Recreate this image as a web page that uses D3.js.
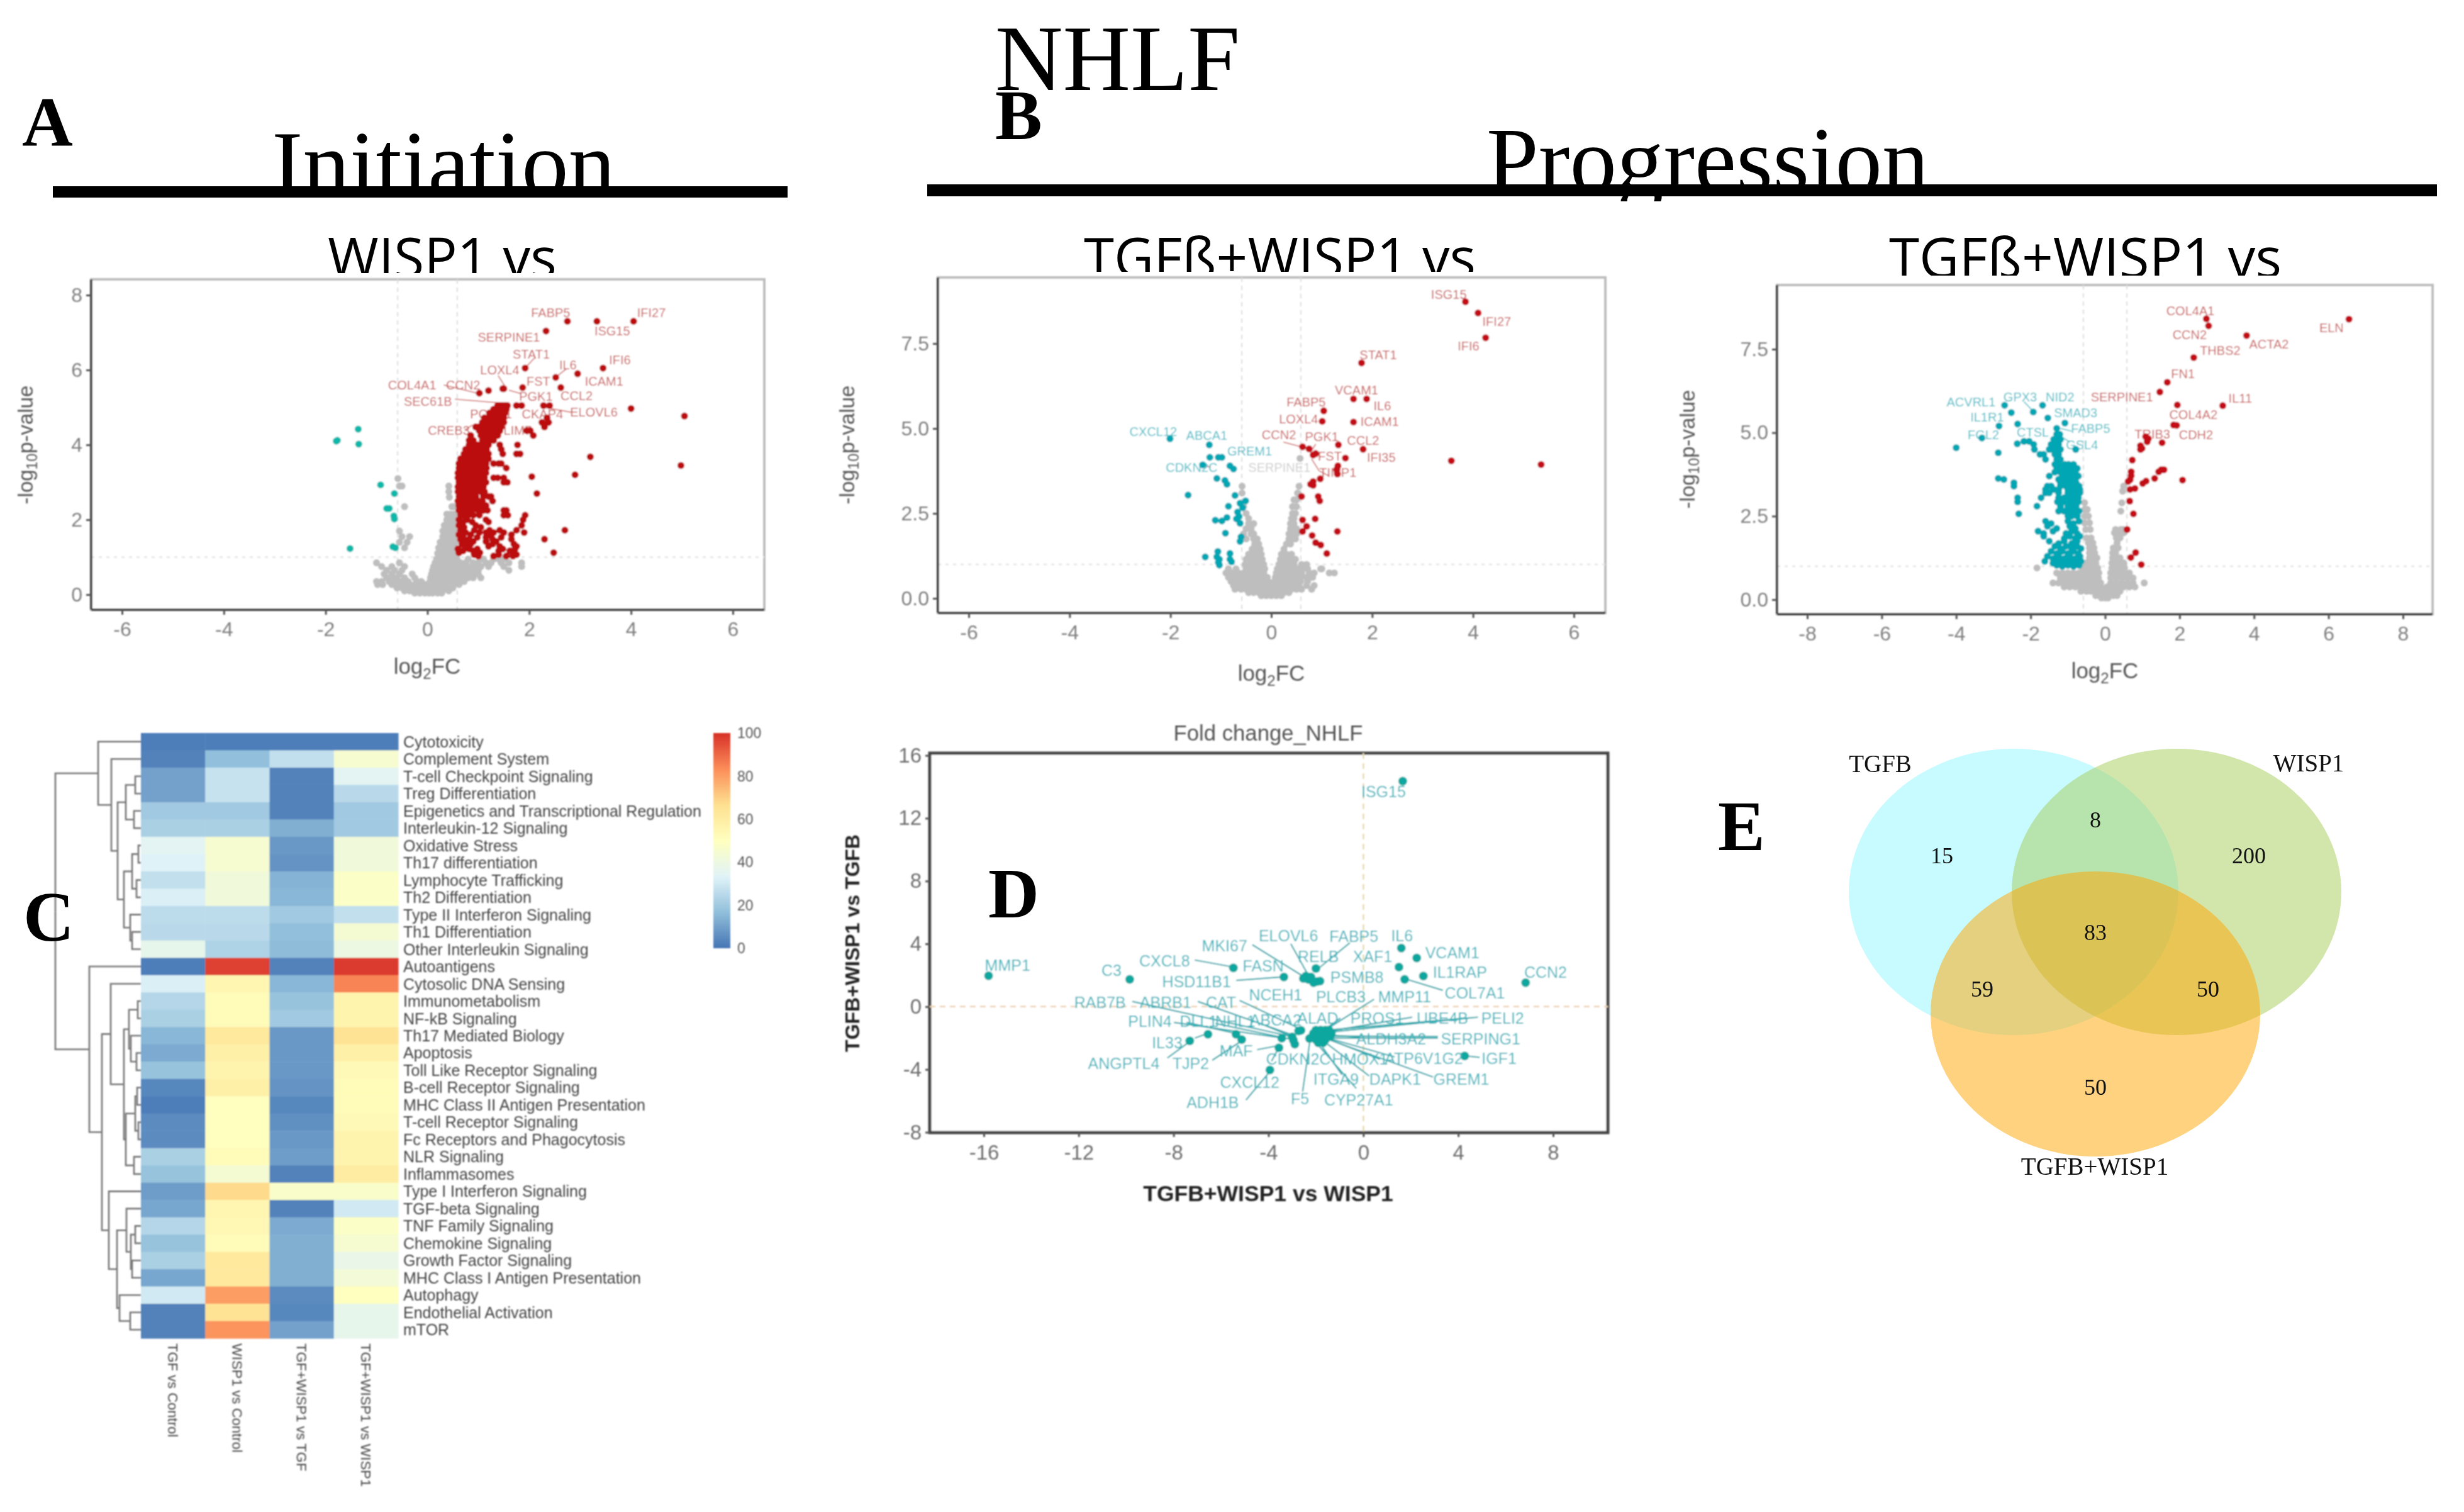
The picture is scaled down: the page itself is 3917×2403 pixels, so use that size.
<!DOCTYPE html>
<html>
<head>
<meta charset="utf-8">
<title>NHLF</title>
<script src="https://cdn.jsdelivr.net/npm/d3@7/dist/d3.min.js"></script>
<style>
	html,body{margin:0;padding:0;background:#fff;}
	text{font-family:"Liberation Sans",Arial,sans-serif;}
	.serif text,text.serif{font-family:"Liberation Serif","Times New Roman",serif;}
	.sub{font-family:"Open Sans","Noto Sans",sans-serif;}
</style>
</head>
<body>
<div id="chart"></div>
<script>
// volcano values are written as rows: first number is -log10p, the rest are log2FC
var redA = [
	[7.3,2.75,3.33,4.05],[7.04,2.33],[6.05,1.92,3.45],[5.9,2.95],[5.8,2.52],[5.53,1.87,2.62],[5.5,1.5,1.48],[5.45,1.2],[5.38,1.02],
	[5.05,1.38,1.42,1.47,1.52,1.57,1.75,1.85,2.28,2.4],[4.97,4.0],[4.95,1.3,1.36,1.44,1.5,1.55],[4.85,1.22,1.3,1.38,1.46,1.52],
	[4.77,5.05],[4.72,1.12,1.2,1.28,1.35,1.43,1.5,2.35],[4.6,1.08,1.16,1.22,1.3,1.38,1.5,2.25,2.38],[4.48,.95,1.02,1.1,1.18,1.25,1.33,1.45,2.3],
	[4.38,1.02,1.1,1.17,1.24,1.32,1.42,1.95,2.02],[4.25,.85,1.05,1.12,1.2,1.28,1.38,2.08],[4.12,.82,.9,1.08,1.15,1.22,1.3],
	[4.0,.82,.9,.98,1.05,1.12,1.2,1.42,1.77],[3.88,.75,.85,.93,1.0,1.08,1.16,1.45],[3.76,.72,.8,.88,.96,1.03,1.1,1.2,1.48,1.75,1.82],
	[3.68,3.2],[3.63,.65,.72,.8,.88,.95,1.02,1.1,1.2],[3.5,.62,.7,.78,.85,.93,1.0,1.08,1.15,1.3,1.4,1.45],[3.45,4.98],
	[3.38,.62,.68,.76,.84,.92,1.0,1.08,1.16,1.55],[3.25,.6,.68,.75,.82,.9,.98,1.05,1.15],[3.2,2.9],[3.15,2.05],
	[3.12,.6,.66,.74,.82,.9,1.0,1.12,1.3,1.38,1.5],[3.0,.62,.7,.78,.86,.95,1.05,1.15,1.5,1.57],[2.88,.6,.68,.76,.84,.92,1.0,1.1],
	[2.75,.6,.65,.72,.8,.88,.96,1.05,1.12],[2.7,2.15],[2.62,.62,.7,.78,.86,.95,1.1,1.2,1.25],[2.5,.6,.68,.76,.84,.92,1.0,1.08,1.28],
	[2.38,.62,.7,.78,.86,.95,1.05,1.15],[2.25,.62,.7,.78,.88,1.0,1.1,1.18,1.5,1.55],[2.12,.65,.72,.8,.9,1.02,1.5,1.58,1.92],
	[2.0,.62,.78,1.15,1.88],[1.94,.7,.88,1.2],[1.85,.62,.95,1.85],[1.8,.72,1.05],[1.72,.65,.92,1.22,1.42,1.75,2.7],[1.66,.75,1.02,1.15,1.3,1.5,1.9],
	[1.6,.62,.85,1.25,1.65],[1.53,.7,.98,1.15,1.45],[1.48,.65,.82,1.28,1.65,2.3],[1.42,.72,.9,1.15,1.35],[1.35,.68,.85,1.28,1.7],[1.29,.78,1.2,1.42,1.75],
	[1.22,.6,.82,.98,1.48,1.72],[1.17,.7,.9,1.4,1.62],[1.12,.62,1.03,1.68,2.48],[1.07,.92,1.4,1.75],[1.03,1.0,1.3,1.55,1.68]
];
var tealA = [
	[4.42,-1.36],[4.12,-1.77],[4.1,-1.79],[4.02,-1.35],[2.93,-.92],[2.7,-.65],[2.3,-.8,-.75],[2.1,-.66],[2.02,-.65],[1.28,-.68],[1.25,-.63],[1.23,-1.52]
];
var greyA = [
	[3.1,-.58],[2.9,-.55,-.5,.42],[2.75,.42],[2.6,.43],[2.35,-.45,.48,.52],[2.15,.38,.45,.52],[2.0,.38,.45,.5,.55],[1.85,.33,.4,.47,.53],
	[1.7,-.55,.3,.38,.45,.52],[1.55,-.5,-.35,.3,.37,.44,.52],[1.4,-.55,-.4,.25,.32,.4,.48,.55],[1.25,-.45,.22,.3,.38,.46,.54],[1.1,.2,.28,.36,.44,.52],
	[.95,.18,.26,.34,.42,.5,.58,.8,1.1,1.3,1.4,1.5],[.85,-1.0,-.55,.15,.22,.3,.38,.46,.55,.65,.75,.9,1.0,1.15,1.25,1.45,1.6,1.85],
	[.75,-.9,-.7,-.45,.12,.2,.28,.36,.45,.55,.65,.75,.85,.95,1.05,1.2,1.5,1.85],[.65,-.8,-.65,-.5,.1,.18,.26,.34,.43,.52,.62,.72,.82,.92,1.0,1.6],
	[.55,-.85,-.7,-.55,-.3,.08,.16,.24,.32,.4,.5,.6,.7,.8,.9,1.0],[.45,-.8,-.72,-.6,-.45,-.25,.06,.14,.22,.3,.38,.48,.58,.68,.8,.9,1.05],
	[.35,-1.0,-.9,-.75,-.62,-.5,-.38,-.2,-.12,.05,.12,.2,.28,.38,.48,.6,.72],[.27,-.98,-.88,-.7,-.6,-.48,-.35,-.25,-.15,-.05,.05,.14,.24,.36,.5,.62],
	[.18,-.6,-.5,-.42,-.32,-.22,-.12,-.04,.06,.16,.28,.4,.5],[.1,-.45,-.35,-.25,-.15,-.08,0,.08,.18,.3,.42],[.04,-.25,-.15,-.05,.03,.1,.2,.28]
];
var labelsA = [
	["FABP5",2.42,7.53],["ISG15",3.63,7.05],["IFI27",4.4,7.53],["SERPINE1",1.6,6.87],["STAT1",2.04,6.43],["IL6",2.76,6.13],["IFI6",3.78,6.27],
	["LOXL4",1.42,6.0],["FST",2.18,5.7],["ICAM1",3.47,5.7],["COL4A1",-.3,5.6],["CCN2",.7,5.6],["PGK1",2.13,5.29],["CCL2",2.93,5.31],
	["SEC61B",.01,5.17],["PCCB1",1.25,4.83],["CKAP4",2.26,4.83],["ELOVL6",3.27,4.87],["CREB3",.42,4.39],["PDLIM7",1.6,4.39]
];
var leadersA = [
	[.32,5.6,1.01,5.37],[.54,5.22,1.44,5.12],[1.39,5.85,1.53,5.55],[2.11,6.33,1.93,6.07],[2.73,6.03,2.53,5.82],[1.83,5.37,1.6,5.46],[2.83,4.87,2.26,5.01],[.73,4.39,.88,4.53]
];

var redB = [
	[8.73,3.85],[8.4,4.1],[7.67,4.25],[6.93,1.79],[5.87,1.63,1.89],[5.52,1.04],[5.21,1.01],[5.19,1.63],[4.52,1.33],[4.46,.62],[4.4,.75],[4.39,1.82],
	[4.26,.88],[4.22,.83],[4.13,1.47],[4.05,3.57],[3.94,5.35],[3.9,1.32],[3.8,1.3],[3.66,1.31],[3.52,.97],[3.44,.83],[3.36,.78],[3.33,.83],[3.0,.6,.93],
	[2.87,.96],[2.34,.87],[2.31,.62],[2.12,.7],[1.97,.62,1.31],[1.85,.81],[1.64,.88],[1.57,.98],[1.32,1.1]
];
var tealB = [
	[4.7,-2.01],[4.52,-1.23],[4.15,-1.22,-1.05,-.98],[3.93,-1.36],[3.9,-.82],[3.81,-.75],[3.53,-1.08],[3.47,-.92],[3.36,-.88],[3.04,-1.65],[3.03,-.72],
	[2.87,-.51],[2.8,-.62],[2.71,-.85],[2.67,-.57],[2.54,-.67],[2.41,-.64],[2.38,-.88],[2.34,-.69],[2.3,-1.11],[2.28,-.98],[2.21,-.62],[1.92,-.91],
	[1.81,-.6],[1.68,-.62],[1.38,-1.06],[1.32,-.82],[1.22,-1.31,-1.08],[1.15,-1.03,-.82],[1.08,-.79],[1.06,-1.05],[.98,-1.03]
];
var greyB = [
	[4.12,.57],[3.3,-.58,.55],[3.1,-.58,.52],[2.9,.45,.5],[2.7,-.55,.42,.5],[2.5,-.5,.42,.48],[2.35,-.45,.4,.45],[2.2,-.45,-.35,.38,.45],
	[2.05,-.5,-.4,.38,.45,.5],[1.9,-.55,-.4,-.35,.35,.42,.5],[1.75,-.5,-.35,-.28,.35,.42,.48],[1.6,-.33,-.25,.3,.38],[1.45,-.38,-.3,-.22,.25],
	[1.3,-.45,-.35,-.28,-.2,.2,.3,.4],[1.15,-.5,-.42,-.33,-.25,-.18,.18,.28,.38,.48],[1.0,-.52,-.4,-.3,-.22,-.15,.15,.25,.35,.45,.6,.7],
	[.87,-.85,-.7,-.5,-.4,-.3,-.22,-.13,.12,.22,.32,.42,.52,.62,.72,.98,1.0],[.75,-.9,-.78,-.65,-.55,-.45,-.35,-.25,-.15,.1,.2,.3,.4,.5,.6,.75,.85,1.15,1.25],
	[.62,-.85,-.72,-.6,-.48,-.36,-.26,-.16,-.08,.08,.18,.28,.38,.48,.58,.7,.82],[.5,-.8,-.68,-.56,-.44,-.34,-.24,-.14,-.06,.06,.16,.26,.36,.46,.58,.72],
	[.38,-.75,-.65,-.55,-.45,-.35,-.25,-.15,-.05,.05,.15,.25,.35,.45,.55,.7,.85],[.27,-.72,-.6,-.5,-.4,-.3,-.2,-.1,0,.1,.2,.3,.4,.5,.6,.8],
	[.17,-.45,-.35,-.25,-.15,-.05,.05,.15,.25,.35],[.08,-.2,-.1,0,.1,.2]
];
var labelsBRed = [
	["ISG15",3.52,8.95],["IFI27",4.47,8.16],["IFI6",3.91,7.43],["STAT1",2.12,7.17],["VCAM1",1.69,6.14],["IL6",2.2,5.67],["FABP5",.69,5.78],
	["LOXL4",.54,5.29],["ICAM1",2.15,5.2],["CCN2",.15,4.81],["PGK1",1.0,4.76],["CCL2",1.82,4.66],["IFI35",2.18,4.15],["FST",1.16,4.19],["TIMP1",1.32,3.7]
];
var labelsBTeal = [["CXCL12",-2.34,4.92],["ABCA1",-1.28,4.8],["GREM1",-.43,4.33],["CDKN2C",-1.58,3.86]];
var labelsBGrey = [["SERPINE1",.16,3.86]];
var leadersB = [[.24,4.6,.62,4.45],[.88,4.54,.78,4.3],[.8,4.1,.95,3.75],[.95,3.75,1.15,3.6],[-1.2,3.86,-1.36,3.93]];

var redC = [
	[8.41,2.72],[8.4,6.55],[8.2,2.78],[7.91,3.8],[7.25,2.38],[6.51,1.67],[6.22,1.47],[5.83,1.94],[5.81,3.16],[5.23,1.84],[5.22,1.92],[4.88,1.09],[4.82,1.16],
	[4.73,1.13],[4.7,1.53],[4.61,.95],[4.53,.99],[4.5,.95],[4.18,.73],[3.89,1.51,1.58],[3.83,1.44,.7],[3.71,.7],[3.63,1.33],[3.59,.67],[3.58,2.08],[3.55,1.1],
	[3.54,.62],[3.48,1.01],[3.33,.8],[3.3,.67],[2.95,.66],[2.57,.76],[2.1,.59],[1.41,.82],[1.26,.69],[1.05,.97]
];
var tealC = [
	[5.82,-2.7,-1.68],[5.62,-1.93],[5.6,-2.52],[5.44,-1.54],[5.29,-1.08],[5.26,-2.35],[5.2,-2.85],[5.13,-1.3],[4.95,-1.3,-1.22],[4.84,-3.31],[4.8,-1.38,-1.28,-1.2],
	[4.74,-2.18,-2.04],[4.67,-2.36],[4.65,-1.45,-1.35,-1.25,-1.92],[4.55,-4.0],[4.5,-.79,-1.9,-1.5,-1.42,-1.3,-1.2],[4.4,-2.87],[4.35,-1.75,-1.65,-1.35,-1.25],
	[4.2,-1.6,-1.3,-1.2],[4.05,-1.35,-1.25,-1.08,-.98,-.85],[3.93,-1.3,-1.15,-1.05,-.95,-.85,-.75],[3.82,-1.35,-1.2,-1.1,-1.0,-.9,-.8],[3.7,-1.5,-1.15,-1.05,-.95,-.85,-.72],
	[3.63,-2.87],[3.6,-2.72,-1.25,-1.1,-1.0,-.9,-.8],[3.5,-2.45,-1.2,-1.08,-.98,-.88,-.78],[3.4,-2.45,-1.55,-1.45,-1.2,-1.05,-.95,-.85,-.7],[3.3,-1.6,-1.38,-1.25,-1.0,-.9,-.8,-.68],
	[3.2,-1.6,-1.5,-1.25,-1.0,-.9,-.8,-.68],[3.05,-2.35,-1.72,-1.25,-1.1,-.95,-.85,-.72],[2.93,-2.35,-1.28,-1.13,-.95,-.85,-.72],[2.8,-1.83,-1.2,-1.0,-.9,-.78],
	[2.65,-1.25,-1.1,-.95,-.8,-.7],[2.57,-2.32],[2.5,-1.0,-.9,-.75],[2.35,-1.6,-1.0,-.7],[2.28,-1.45,-.85],[2.2,-1.55,-.95],[2.13,-1.3,-.8],[2.05,-1.8,-1.4,-.9],
	[1.98,-1.65,-1.05,-.75],[1.9,-1.65,-.95,-.68],[1.83,-1.1,-.8],[1.75,-1.5,-1.1,-.75],[1.68,-1.25,-.9],[1.6,-1.35,-1.05,-.75],[1.53,-1.2,-.9,-.65],[1.45,-1.45,-1.15,-.85],
	[1.38,-1.3,-1.0,-.72],[1.3,-1.55,-1.25,-.95,-.68],[1.23,-1.4,-1.1,-.8],[1.15,-1.62,-1.25,-.95,-.65],[1.09,-1.4,-1.1,-.8],[1.03,-1.3,-1.0,-.7],[1.0,-1.15,-.85]
];
var greyC = [
	[3.4,.5],[3.25,.47],[2.9,.45,-.55],[2.7,-.55,-.48],[2.65,.42],[2.5,-.55,-.45],[2.3,-.55,-.42],[2.1,-.52,-.4,.28,.42,.48],[2.0,.25,.32,.4,.5],[1.85,-.5,-.38,.3,.4],
	[1.7,-.45,-.33,.32],[1.55,-.42,-.3,.22,.35],[1.4,-.42,-.28,.2,.28],[1.25,-.42,-.3,-.22,.2,.3,.4],[1.1,-.5,-.35,-.25,.18,.28,.4,.5],[.95,-1.83,-.6,-.45,-.32,-.2,.18,.3,.42,.52],
	[.8,-1.3,-1.15,-1.0,-.85,-.7,-.55,-.4,-.28,-.17,.15,.28,.4,.52,.65],[.65,-1.2,-1.05,-.9,-.75,-.6,-.45,-.3,-.18,.15,.3,.45,.6,.75],
	[.5,-1.4,-1.25,-1.1,-.95,-.8,-.65,-.5,-.38,-.25,-.12,.15,.3,.45,.6,.75,1.05],[.38,-1.1,-.95,-.8,-.65,-.5,-.38,-.25,-.12,.05,.2,.35,.5,.65,.8],
	[.25,-.65,-.5,-.38,-.25,-.12,0,.12,.25,.4],[.12,-.25,-.12,0,.1,.22,.32],[.05,-.1,0,.08]
];
var labelsCRed = [
	["COL4A1",2.29,8.65],["CCN2",2.27,7.93],["ELN",6.08,8.14],["ACTA2",4.4,7.65],["THBS2",3.09,7.47],["FN1",2.09,6.77],["SERPINE1",.45,6.08],["IL11",3.63,6.04],
	["COL4A2",2.37,5.55],["TRIB3",1.27,4.96],["CDH2",2.44,4.94]
];
var labelsCTeal = [
	["ACVRL1",-3.6,5.93],["GPX3",-2.28,6.08],["NID2",-1.21,6.08],["SMAD3",-.79,5.6],["IL1R1",-3.17,5.46],["FABP5",-.39,5.13],["FGL2",-3.27,4.94],["CTSL",-1.94,5.02],["GSL4",-.62,4.64]
];
var leadersC = [[-2.18,5.93,-1.93,5.64],[-.9,5.05,-1.2,5.13],[-.95,4.72,-1.2,4.9]];

var foldX = [
	-15.8,-9.85,-5.48,-3.35,1.66,1.6,2.25,1.5,2.53,1.74,6.84,-2,-2.42,-2.32,-2.53,-2.21,-2.1,-1.83,-1.96,4.27,-7.32,-6.55,-5.37,-5.13,-3.56,-3.94,-3.44,-2.95,-2.89,-3,-2.73,-2.63,-2.27,
	-2.0,-1.8,-1.6,-1.45,-2.1,-1.9,-1.7,-1.5,-1.35,-2.15,-1.95,-1.75,-1.55,-1.4,-2.0,-1.8,-1.6,-1.9,-1.7
];
var foldY = [
	1.97,1.74,2.47,1.89,14.36,3.73,3.1,2.52,1.95,1.74,1.53,2.43,1.95,1.74,1.8,1.89,1.53,1.63,1.6,-3.14,-2.18,-1.76,-1.76,-2.1,-2.62,-4.03,-2.01,-2.14,-2.39,-1.93,-1.55,-1.51,-2.03,
	-1.5,-1.5,-1.5,-1.5,-1.7,-1.7,-1.7,-1.7,-1.7,-1.9,-1.9,-1.9,-1.9,-1.9,-2.1,-2.1,-2.1,-2.3,-2.3
];
var labelsD = [
	["MMP1",-15,2.64],["C3",-10.62,2.3],["CXCL8",-8.38,2.93],["MKI67",-5.85,3.9],["FASN",-4.22,2.6],["HSD11B1",-7.03,1.6],["ELOVL6",-3.16,4.53],["FABP5",-.4,4.5],["IL6",1.63,4.53],
	["RELB",-1.9,3.2],["XAF1",.39,3.2],["VCAM1",3.75,3.46],["IL1RAP",4.07,2.2],["CCN2",7.68,2.2],["PSMB8",-.27,1.89],["COL7A1",4.7,.86],["NCEH1",-3.7,.75],["PLCB3",-.95,.65],
	["MMP11",1.74,.65],["RAB7B",-11.1,.29],["ABRB1",-8.34,.29],["CAT",-6.0,.29],["PLIN4",-9.0,-.94],["DLL1",-6.95,-.94],["NHL1",-5.4,-.94],["ABCA2",-3.7,-.85],["ALAD",-1.92,-.71],
	["PROS1",.58,-.71],["UBE4B",3.33,-.71],["PELI2",5.87,-.71],["ALDH3A2",1.17,-2.03],["SERPING1",4.94,-2.03],["IL33",-8.27,-2.29],["MAF",-5.36,-2.83],["ANGPTL4",-10.1,-3.6],
	["TJP2",-7.28,-3.6],["CDKN2C",-2.74,-3.33],["HMOX1",-.14,-3.33],["ATP6V1G2",2.55,-3.29],["IGF1",5.72,-3.29],["CXCL12",-4.79,-4.8],["ITGA9",-1.15,-4.61],["DAPK1",1.34,-4.61],
	["GREM1",4.13,-4.61],["ADH1B",-6.35,-6.08],["F5",-2.67,-5.87],["CYP27A1",-.2,-5.95],["ISG15",.85,13.69]
];
var leadersD = [
	[-4.68,3.94,-2.39,1.8],[-3.06,4.0,-2.32,2.0],[-.57,4.07,-1.92,2.4],[-7.11,2.97,-5.43,2.51],[-5.36,1.67,-3.33,1.9],[1.79,1.76,3.35,1.04],[-9.74,.33,-3.13,-1.87],[-6.98,.33,-2.86,-1.87],
	[-5.22,.4,-2.59,-1.47],[-7.99,-1,-3.4,-2.0],[-6.23,-1.07,-2.86,-2.14],[-4.35,-1.07,-2.86,-2.0],[-7.45,-1,-5.29,-1.74],[-.97,-.73,-1.65,-1.47],[.45,.47,-1.51,-1.4],[2.06,-.67,-1.38,-1.54],
	[4.43,-.73,-1.31,-1.6],[4.83,-.67,-1.38,-1.47],[-.16,-1.94,-1.51,-1.8],[3.14,-1.9,-1.38,-1.87],[3.14,-2.0,-1.38,-2.0],[1.32,-3.2,-1.51,-2.0],[.7,-3.35,-1.6,-2.0],[2.94,-4.48,-1.51,-2.07],
	[.24,-4.41,-1.78,-2.07],[-.9,-4.34,-1.92,-2.14],[-.3,-5.21,-2.05,-2.2],[-2.56,-5.41,-2.25,-2.14],[4.9,-3.23,4.29,-3.14],[-8.26,-3.27,-7.25,-2.14],[-6.37,-3.41,-5.09,-2.14],[-4.48,-2.74,-3.54,-2.47],
	[-4.95,-5.95,-3.87,-4.01],[-3.87,-3.47,-3.54,-2.54],[-7.1,-2,-6.5,-1.67]
];

var heatRows = [
	"Cytotoxicity","Complement System","T-cell Checkpoint Signaling","Treg Differentiation","Epigenetics and Transcriptional Regulation","Interleukin-12 Signaling",
	"Oxidative Stress","Th17 differentiation","Lymphocyte Trafficking","Th2 Differentiation","Type II Interferon Signaling","Th1 Differentiation","Other Interleukin Signaling",
	"Autoantigens","Cytosolic DNA Sensing","Immunometabolism","NF-kB Signaling","Th17 Mediated Biology","Apoptosis","Toll Like Receptor Signaling","B-cell Receptor Signaling",
	"MHC Class II Antigen Presentation","T-cell Receptor Signaling","Fc Receptors and Phagocytosis","NLR Signaling","Inflammasomes","Type I Interferon Signaling","TGF-beta Signaling",
	"TNF Family Signaling","Chemokine Signaling","Growth Factor Signaling","MHC Class I Antigen Presentation","Autophagy","Endothelial Activation","mTOR"
];
var heatCols = ["TGF vs Control","WISP1 vs Control","TGF+WISP1 vs TGF","TGF+WISP1 vs WISP1"];
var tgfVsControl = [2,3,10,10,20,22,35,33,27,32,26,25,37,2,32,24,22,15,12,18,4,2,5,5,22,18,9,11,24,18,22,11,30,3,3];
var wispVsControl = [2,17,28,28,20,22,45,45,42,42,26,25,23,97,55,52,52,62,58,56,58,50,50,50,52,44,68,55,54,52,62,62,80,65,82];
var comboVsTgf = [2,27,3,3,3,13,8,7,14,15,20,17,16,3,15,18,20,8,8,8,7,4,6,8,9,3,47,3,12,13,13,13,5,4,10];
var comboVsWisp = [2,45,35,25,20,20,42,42,48,48,27,44,40,98,85,56,56,65,58,53,52,52,53,56,56,60,47,30,48,45,38,43,50,37,37];
var heatSeries = [tgfVsControl,wispVsControl,comboVsTgf,comboVsWisp];
var heatStopValues = [0,16.7,33.3,50,66.7,83.3,100];
var heatStopColors = ["#4575b4","#91bfdb","#e0f3f8","#ffffbf","#fee090","#fc8d59","#d73027"];
var legendTicks = [0,20,40,60,80,100];
// row tree: [height, left, right], a plain number is a row index
var rowTree = [136,
	[68,0,[47,1,[37,
		[24,[9,2,3],[11,4,5]],
		[27,[14,[4,6,7],[7,8,9]],[17,10,[14,11,12]]]
	]]],
	[82,13,[62,
		[48,14,[27,
			[19,[5,15,16],[16,17,[7,18,19]]],
			[24,[9,[6,20,21],[4,22,23]],[11,24,25]]
		]],
		[51,26,[38,
			[23,27,[16,[9,28,29],[14,30,31]]],
			[34,32,[17,33,34]]
		]]
	]]
];

var vennSets = [
	{name:"TGFB",color:"rgb(72,242,255)",opacity:0.3,cx:3201,cy:1417.5,ry:227.5},
	{name:"WISP1",color:"rgb(165,205,89)",opacity:0.5,cx:3460,cy:1417.5,ry:227.5},
	{name:"TGFB+WISP1",color:"rgb(255,165,0)",opacity:0.5,cx:3331,cy:1611.5,ry:226.5}
];
var vennCounts = [15,8,200,83,59,50,50];

function rowsToPoints(rows){
	return rows.reduce(function(all,r){
		return all.concat(r.slice(1).map(function(v){return {x:v,y:r[0]};}));
	},[]);
}

var svg = d3.select("#chart").append("svg").attr("width",3917).attr("height",2403).style("display","block");
svg.append("rect").attr("width",3917).attr("height",2403).attr("fill","#fff");
var defs = svg.append("defs");
// the plots in the figure are soft pasted bitmaps
defs.append("filter").attr("id","soft").attr("filterUnits","userSpaceOnUse").attr("x",0).attr("y",0).attr("width",3917).attr("height",2403)
	.append("feGaussianBlur").attr("stdDeviation",0.8);

function drawLabels(g,list,x,y,size,color){
	g.selectAll(null).data(list).enter().append("text")
		.attr("x",function(d){return x(d[1]);})
		.attr("y",function(d){return y(d[2]);})
		.attr("dy",".36em")
		.attr("text-anchor","middle")
		.attr("font-size",size)
		.attr("fill",color)
		.text(function(d){return d[0];});
}
function drawLeaders(g,list,x,y,color,w){
	g.selectAll(null).data(list).enter().append("line")
		.attr("x1",function(d){return x(d[0]);}).attr("y1",function(d){return y(d[1]);})
		.attr("x2",function(d){return x(d[2]);}).attr("y2",function(d){return y(d[3]);})
		.attr("stroke",color).attr("stroke-width",w);
}
function drawDots(g,pts,x,y,r,color){
	g.selectAll(null).data(pts).enter().append("circle")
		.attr("cx",function(d){return x(d.x);})
		.attr("cy",function(d){return y(d.y);})
		.attr("r",r)
		.attr("fill",color);
}
function styleAxis(a,size,color){
	a.selectAll("text").attr("font-size",size).attr("fill",color).attr("font-family","Liberation Sans");
	a.selectAll("line").attr("stroke","#555").attr("stroke-width",3);
	a.select(".domain").attr("stroke","#444").attr("stroke-width",4);
}

function drawVolcano(p){
	var x = d3.scaleLinear().domain(p.xDomain).range(p.xRange);
	var y = d3.scaleLinear().domain(p.yDomain).range(p.yRange);
	var g = svg.append("g").attr("filter","url(#soft)");
	g.append("rect").attr("x",p.box[0]).attr("y",p.box[1]).attr("width",p.box[2]-p.box[0]).attr("height",p.box[3]-p.box[1])
		.attr("fill","#fff").attr("stroke","#bdbdbd").attr("stroke-width",4);
	[-0.585,0.585].forEach(function(v){
		g.append("line").attr("x1",x(v)).attr("x2",x(v)).attr("y1",p.box[1]).attr("y2",p.box[3])
			.attr("stroke","#ddd").attr("stroke-width",2).attr("stroke-dasharray","7,6");
	});
	g.append("line").attr("x1",p.box[0]).attr("x2",p.box[2]).attr("y1",y(1)).attr("y2",y(1))
		.attr("stroke","#e4e4e4").attr("stroke-width",2.5).attr("stroke-dasharray","5,7");
	drawLeaders(g,p.leaders,x,y,p.leaderColor,1.8);
	p.labels.forEach(function(l){drawLabels(g,l[0],x,y,20,l[1]);});
	drawDots(g,rowsToPoints(p.grey),x,y,5.6,"#bebebe");
	drawDots(g,rowsToPoints(p.teal),x,y,5.6,p.tealColor);
	drawDots(g,rowsToPoints(p.red),x,y,5.6,p.redColor);
	var ax = g.append("g").attr("transform","translate(0,"+p.box[3]+")")
		.call(d3.axisBottom(x).tickValues(p.xTicks).tickSize(8).tickPadding(11).tickFormat(function(d){return String(d);}));
	var ay = g.append("g").attr("transform","translate("+p.box[0]+",0)")
		.call(d3.axisLeft(y).tickValues(p.yTicks).tickSize(8).tickPadding(6).tickFormat(p.yFormat));
	[ax,ay].forEach(function(a){styleAxis(a,32,"#808080");});
	// domain has to cover the whole side of the frame
	ax.select(".domain").attr("d","M"+p.box[0]+",0H"+p.box[2]);
	ay.select(".domain").attr("d","M0,"+p.box[1]+"V"+p.box[3]);
	var xt = g.append("text").attr("x",p.xTitle[0]).attr("y",p.xTitle[1]).attr("text-anchor","middle").attr("font-size",35).attr("fill","#555");
	xt.append("tspan").text("log");
	xt.append("tspan").attr("dy",8).attr("font-size",24).text("2");
	xt.append("tspan").attr("dy",-8).text("FC");
	var yt = g.append("text").attr("transform","translate("+p.yTitle[0]+","+p.yTitle[1]+") rotate(-90)").attr("text-anchor","middle").attr("font-size",33).attr("fill","#555");
	yt.append("tspan").text("-log");
	yt.append("tspan").attr("dy",7).attr("font-size",23).text("10");
	yt.append("tspan").attr("dy",-7).text("p-value");
}

var fmtInt = function(d){return String(d);};
var fmtOne = function(d){return d.toFixed(1);};
drawVolcano({box:[145,444,1215,969],xDomain:[-6,6],xRange:[194,1165],yDomain:[0,8],yRange:[945,469],xTicks:[-6,-4,-2,0,2,4,6],yTicks:[0,2,4,6,8],yFormat:fmtInt,
	red:redA,teal:tealA,grey:greyA,labels:[[labelsA,"#c85a58"]],leaders:leadersA,leaderColor:"#d57a78",tealColor:"#0bb8aa",redColor:"#bb0a0f",xTitle:[679,1071],yTitle:[52,707]});
drawVolcano({box:[1491,441,2552,974],xDomain:[-6,6],xRange:[1540,2502],yDomain:[0,7.5],yRange:[951,546],xTicks:[-6,-4,-2,0,2,4,6],yTicks:[0,2.5,5,7.5],yFormat:fmtOne,
	red:redB,teal:tealB,grey:greyB,labels:[[labelsBRed,"#c85a58"],[labelsBTeal,"#45bcc6"],[labelsBGrey,"#cfcfcf"]],leaders:leadersB,leaderColor:"#d57a78",tealColor:"#04a6b3",redColor:"#c20d18",xTitle:[2021,1082],yTitle:[1358,707]});
drawVolcano({box:[2825,453,3867,976],xDomain:[-8,8],xRange:[2873,3820],yDomain:[0,7.5],yRange:[953,555],xTicks:[-8,-6,-4,-2,0,2,4,6,8],yTicks:[0,2.5,5,7.5],yFormat:fmtOne,
	red:redC,teal:tealC,grey:greyC,labels:[[labelsCRed,"#c85a58"],[labelsCTeal,"#45bcc6"]],leaders:leadersC,leaderColor:"#5cc4cc",tealColor:"#04a6b3",redColor:"#c20d18",xTitle:[3346,1078],yTitle:[2694,714]});

// panel D
(function(){
	var box = [1478,1197,2556,1800];
	var x = d3.scaleLinear().domain([-16,8]).range([1564,2469]);
	var y = d3.scaleLinear().domain([-8,16]).range([1799.5,1200.6]);
	var g = svg.append("g").attr("filter","url(#soft)");
	g.append("rect").attr("x",box[0]).attr("y",box[1]).attr("width",box[2]-box[0]).attr("height",box[3]-box[1]).attr("fill","#fff").attr("stroke","#444").attr("stroke-width",5);
	g.append("line").attr("x1",x(0)).attr("x2",x(0)).attr("y1",box[1]).attr("y2",box[3]).attr("stroke","#e6dcae").attr("stroke-width",2.5).attr("stroke-dasharray","9,7");
	g.append("line").attr("x1",box[0]).attr("x2",box[2]).attr("y1",y(0)).attr("y2",y(0)).attr("stroke","#efd3b0").attr("stroke-width",2.5).attr("stroke-dasharray","9,7");
	drawLeaders(g,leadersD,x,y,"#2aa7ac",2.2);
	var pts = foldX.map(function(v,i){return {x:v,y:foldY[i]};});
	drawDots(g,pts,x,y,7,"#0fa79f");
	drawLabels(g,labelsD,x,y,25,"#3ab5bd");
	var ax = g.append("g").attr("transform","translate(0,"+box[3]+")")
		.call(d3.axisBottom(x).tickValues([-16,-12,-8,-4,0,4,8]).tickSize(7).tickPadding(13).tickFormat(fmtInt));
	var ay = g.append("g").attr("transform","translate("+box[0]+",0)")
		.call(d3.axisLeft(y).tickValues([-8,-4,0,4,8,12,16]).tickSize(7).tickPadding(6).tickFormat(fmtInt));
	[ax,ay].forEach(function(a){styleAxis(a,33,"#6e6e6e");a.select(".domain").remove();});
	g.append("text").attr("x",2016).attr("y",1177).attr("text-anchor","middle").attr("font-size",34.7).attr("fill","#555").text("Fold change_NHLF");
	g.append("text").attr("x",2016).attr("y",1909).attr("text-anchor","middle").attr("font-size",35.5).attr("font-weight","bold").attr("fill","#222").text("TGFB+WISP1 vs WISP1");
	g.append("text").attr("transform","translate(1366,1499) rotate(-90)").attr("text-anchor","middle").attr("font-size",32).attr("font-weight","bold").attr("fill","#222").text("TGFB+WISP1 vs TGFB");
})();

// panel C heatmap
(function(){
	var color = d3.scaleLinear().domain(heatStopValues).range(heatStopColors);
	var yb = d3.scaleBand().domain(heatRows).range([1165,2127]);
	var xb = d3.scaleBand().domain(heatCols).range([224,633]);
	var g = svg.append("g").attr("filter","url(#soft)");
	heatSeries.forEach(function(vals,c){
		g.selectAll(null).data(vals).enter().append("rect")
			.attr("x",xb(heatCols[c]))
			.attr("y",function(d,i){return yb(heatRows[i]);})
			.attr("width",xb.bandwidth()+0.5)
			.attr("height",yb.bandwidth()+0.5)
			.attr("fill",function(d){return color(d);});
	});
	g.selectAll(null).data(heatRows).enter().append("text")
		.attr("x",641).attr("y",function(d){return yb(d)+yb.bandwidth()/2;}).attr("dy",".36em")
		.attr("font-size",25).attr("fill","#444").text(function(d){return d;});
	g.selectAll(null).data(heatCols).enter().append("text")
		.attr("transform",function(d){return "translate("+(xb(d)+xb.bandwidth()/2)+",2135) rotate(90)";})
		.attr("dy",".36em").attr("font-size",22).attr("fill","#444").text(function(d){return d;});
	// legend
	var grad = defs.append("linearGradient").attr("id","heatgrad").attr("x1",0).attr("x2",0).attr("y1",1).attr("y2",0);
	grad.selectAll("stop").data(heatStopValues).enter().append("stop")
		.attr("offset",function(d){return d+"%";})
		.attr("stop-color",function(d,i){return heatStopColors[i];});
	var ly = d3.scaleLinear().domain([0,100]).range([1507,1165]);
	g.append("rect").attr("x",1134).attr("y",1165).attr("width",27).attr("height",342).attr("fill","url(#heatgrad)");
	g.selectAll(null).data(legendTicks).enter().append("text")
		.attr("x",1172).attr("y",function(d){return ly(d);}).attr("dy",".36em").attr("font-size",23).attr("fill","#555").text(function(d){return d;});
	// dendrogram, elbow lines from each merge to its children
	var dx = d3.scaleLinear().domain([0,136]).range([224,88]);
	var root = d3.hierarchy(rowTree,function(d){return Array.isArray(d)?d.slice(1):null;});
	root.eachAfter(function(n){
		if(n.children){
			n.py = (n.children[0].py+n.children[1].py)/2;
			n.px = dx(n.data[0]);
		}else{
			n.py = yb(heatRows[n.data])+yb.bandwidth()/2;
			n.px = dx(0);
		}
	});
	g.selectAll(null).data(root.links()).enter().append("path")
		.attr("d",function(l){return "M"+l.source.px+","+l.source.py+"V"+l.target.py+"H"+l.target.px;})
		.attr("fill","none").attr("stroke","#777").attr("stroke-width",2.6);
})();

// panel E venn
(function(){
	var g = svg.append("g").classed("serif",true);
	g.selectAll("ellipse").data(vennSets).enter().append("ellipse")
		.attr("cx",function(d){return d.cx;}).attr("cy",function(d){return d.cy;}).attr("rx",262).attr("ry",function(d){return d.ry;})
		.attr("fill",function(d){return d.color;}).attr("fill-opacity",function(d){return d.opacity;});
	var spots = [[3087,1360],[3331,1303],[3575,1360],[3331,1482],[3151,1572],[3510,1572],[3331,1728]];
	g.selectAll("text.count").data(vennCounts).enter().append("text").classed("count",true)
		.attr("x",function(d,i){return spots[i][0];}).attr("y",function(d,i){return spots[i][1];}).attr("dy",".33em")
		.attr("text-anchor","middle").attr("font-size",36).attr("fill","#111").text(function(d){return d;});
	var names = [[2989,1214],[3670,1213],[3330,1854]];
	g.selectAll("text.name").data(vennSets).enter().append("text").classed("name",true)
		.attr("x",function(d,i){return names[i][0];}).attr("y",function(d,i){return names[i][1];}).attr("dy",".33em")
		.attr("text-anchor","middle").attr("font-size",39).attr("fill","#111").text(function(d){return d.name;});
})();

// titles, cut off the way they are in the figure
function clipRect(id,x,y,w,h){
	defs.append("clipPath").attr("id",id).append("rect").attr("x",x).attr("y",y).attr("width",w).attr("height",h);
}
clipRect("clipIni",300,150,800,146);
clipRect("clipPro",2200,150,1000,170);
clipRect("clipS1",450,360,500,74);
clipRect("clipS2",1650,360,760,72);
clipRect("clipS3",2950,360,760,78);
var head = svg.append("g");
function serif(txt,x,y,size,bold,clip){
	var t = head.append("text").classed("serif",true).attr("x",x).attr("y",y).attr("font-size",size).attr("fill","#000").text(txt);
	if(bold) t.attr("font-weight","bold");
	if(clip) t.attr("clip-path","url(#"+clip+")");
}
serif("NHLF",1582,143,149,false);
serif("Initiation",432,311,149,false,"clipIni");
serif("Progression",2363,305,149,false,"clipPro");
serif("A",35,232,112,true);
serif("B",1582,221,112,true);
serif("C",37,1495,112,true);
serif("D",1571,1458,112,true);
serif("E",2731,1351,112,true);
head.append("rect").attr("x",84).attr("y",296).attr("width",1168).attr("height",18).attr("fill","#000");
head.append("rect").attr("x",1474).attr("y",293).attr("width",2400).attr("height",19).attr("fill","#000");
function sub(txt,x,w,clip){
	head.append("text").classed("sub",true).attr("x",x).attr("y",441).attr("font-size",87).attr("fill","#000")
		.attr("textLength",w).attr("lengthAdjust","spacingAndGlyphs").attr("clip-path","url(#"+clip+")").text(txt);
}
sub("WISP1 vs",521,364,"clipS1");
sub("TGFß+WISP1 vs",1723,623,"clipS2");
sub("TGFß+WISP1 vs",3003,624,"clipS3");
</script>
</body>
</html>
